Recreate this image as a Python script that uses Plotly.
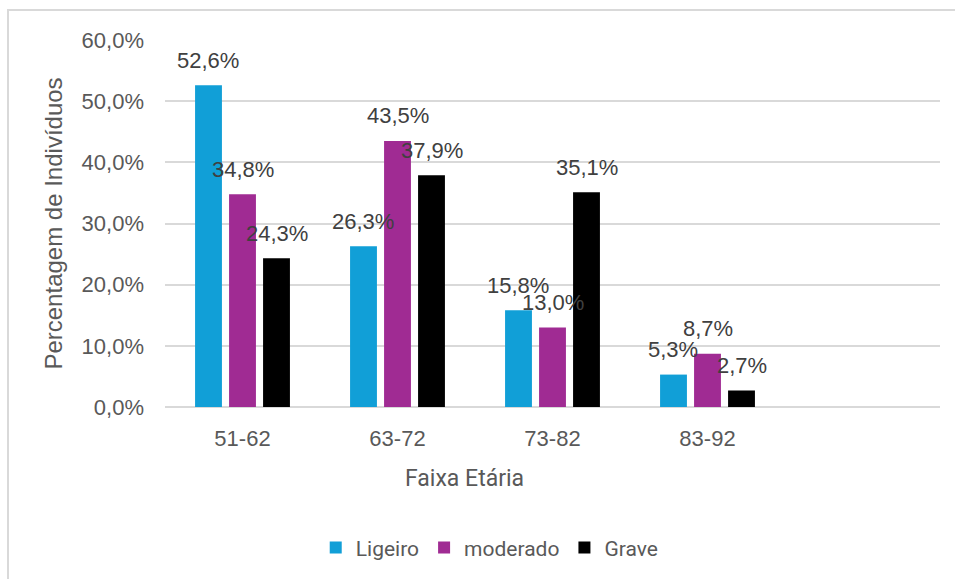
import plotly.graph_objects as go

categories = ["51-62", "63-72", "73-82", "83-92"]
series_names = ["Ligeiro", "moderado", "Grave"]
ligeiro = [52.6, 26.3, 15.8, 5.3]
moderado = [34.8, 43.5, 13.0, 8.7]
grave = [24.3, 37.9, 35.1, 2.7]
colors = ["#119FD7", "#A02B93", "#000000"]
y_ticks = [0, 10, 20, 30, 40, 50, 60]
y_tick_text = ["0,0%", "10,0%", "20,0%", "30,0%", "40,0%", "50,0%", "60,0%"]

series_values = [ligeiro, moderado, grave]
ARIAL = "Arial"

fig = go.Figure()
for name, vals, col in zip(series_names, series_values, colors):
    fig.add_trace(go.Bar(x=categories, y=vals, name=name, marker_color=col,
                         marker_line_width=0))

offsets = [-0.22, 0.0, 0.22]
annotations = []
for vals, off in zip(series_values, offsets):
    for i, v in enumerate(vals):
        annotations.append(dict(
            x=i + off, y=v, xref="x", yref="y",
            text=f"{v:.1f}%".replace(".", ","),
            showarrow=False, yshift=25, yanchor="middle",
            font=dict(family=ARIAL, size=22, color="#404040")))

# x-axis title (placed as in the original, left of the plot-area centre)
annotations.append(dict(text="Faixa Etária", x=0.387, y=-0.195, xref="paper", yref="paper",
                        showarrow=False, xanchor="center", yanchor="middle",
                        font=dict(family="Roboto", size=23, color="#595959")))

fig.update_layout(
    width=955, height=579,
    margin=dict(l=165, r=15, t=40, b=171),
    paper_bgcolor="white", plot_bgcolor="white",
    barmode="group", bargap=0.342, bargroupgap=0.21,
    font=dict(family=ARIAL, size=22, color="#595959"),
    annotations=annotations,
    showlegend=True,
    legend=dict(orientation="h", x=0.419, xanchor="center", y=-0.38, yanchor="middle",
                font=dict(family="Roboto", size=21, color="#595959"),
                itemwidth=30, tracegroupgap=0),
    shapes=[dict(type="rect", xref="paper", yref="paper",
                 x0=-0.2026, x1=1.1, y0=-0.7, y1=1.0815,
                 line=dict(color="#d9d9d9", width=2), layer="below")],
)
fig.update_xaxes(type="category", categoryorder="array", categoryarray=categories,
                 range=[-0.5, 4.5], showgrid=False, showline=False, zeroline=False,
                 ticks="", ticklabelstandoff=16,
                 tickfont=dict(family=ARIAL, size=22, color="#595959"))
fig.update_yaxes(range=[0, 60], tickvals=y_ticks, ticktext=y_tick_text,
                 showgrid=True, gridcolor="#d9d9d9", gridwidth=2,
                 zeroline=True, zerolinecolor="#d9d9d9", zerolinewidth=2,
                 showline=False, ticks="", ticklabelstandoff=20,
                 tickfont=dict(family=ARIAL, size=22, color="#595959"),
                 title=dict(text="Percentagem de Indivíduos", standoff=12,
                            font=dict(family=ARIAL, size=24, color="#595959")))

fig.write_html("out.html")
